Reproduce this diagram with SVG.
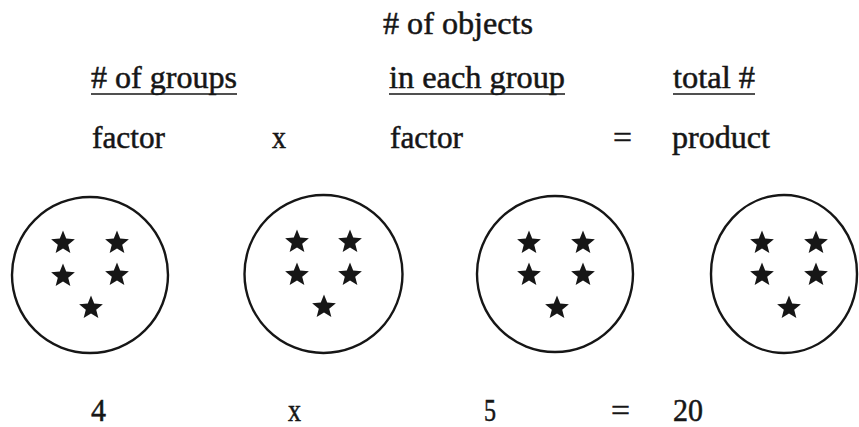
<svg xmlns="http://www.w3.org/2000/svg" xmlns:xlink="http://www.w3.org/1999/xlink" width="859" height="427" viewBox="0 0 859 427">
<style>
  text { font-family: "Liberation Serif", "Times New Roman", serif; font-size: 31px; fill: #161616; stroke: #161616; stroke-width: 0.5; }
  .ul { stroke: #161616; stroke-width: 1.6; }
  .grp { fill: none; stroke: #161616; stroke-width: 2.4; }
  .star { fill: #161616; }
</style>
<defs>
  <path id="star" d="M0,-12.5 L3.2,-4.4 L11.89,-3.86 L5.2,1.7 L7.35,10.11 L0,5.5 L-7.35,10.11 L-5.2,1.7 L-11.89,-3.86 L-3.2,-4.4 Z"/>
</defs>
<rect width="859" height="427" fill="#ffffff"/>
<g id="headings">
  <text x="383" y="34" textLength="150" lengthAdjust="spacingAndGlyphs"># of objects</text>
  <text x="91" y="88" textLength="146" lengthAdjust="spacingAndGlyphs"># of groups</text>
  <line class="ul" x1="91" y1="94" x2="237" y2="94"/>
  <text x="389" y="88" textLength="176" lengthAdjust="spacingAndGlyphs">in each group</text>
  <line class="ul" x1="389" y1="94" x2="565" y2="94"/>
  <text x="673" y="88" textLength="82" lengthAdjust="spacingAndGlyphs">total #</text>
  <line class="ul" x1="673" y1="94" x2="755" y2="94"/>
</g>
<g id="equation-words">
  <text x="92" y="148" textLength="73" lengthAdjust="spacingAndGlyphs">factor</text>
  <text x="272" y="148" textLength="14" lengthAdjust="spacingAndGlyphs">x</text>
  <text x="390" y="148" textLength="73" lengthAdjust="spacingAndGlyphs">factor</text>
  <text x="613" y="148" textLength="19" lengthAdjust="spacingAndGlyphs">=</text>
  <text x="672" y="148" textLength="98" lengthAdjust="spacingAndGlyphs">product</text>
</g>
<g id="group1">
  <circle class="grp" cx="90" cy="275" r="78"/>
  <use class="star" xlink:href="#star" x="63" y="243"/>
  <use class="star" xlink:href="#star" x="117" y="243"/>
  <use class="star" xlink:href="#star" x="63" y="276"/>
  <use class="star" xlink:href="#star" x="117" y="275"/>
  <use class="star" xlink:href="#star" x="91" y="308"/>
</g>
<g id="group2">
  <circle class="grp" cx="323.5" cy="274" r="79"/>
  <use class="star" xlink:href="#star" x="297" y="242"/>
  <use class="star" xlink:href="#star" x="350" y="242"/>
  <use class="star" xlink:href="#star" x="297" y="275"/>
  <use class="star" xlink:href="#star" x="350" y="275"/>
  <use class="star" xlink:href="#star" x="324" y="307"/>
</g>
<g id="group3">
  <circle class="grp" cx="555" cy="274" r="78"/>
  <use class="star" xlink:href="#star" x="529" y="243"/>
  <use class="star" xlink:href="#star" x="583" y="243"/>
  <use class="star" xlink:href="#star" x="529" y="275"/>
  <use class="star" xlink:href="#star" x="583" y="275"/>
  <use class="star" xlink:href="#star" x="557" y="308"/>
</g>
<g id="group4">
  <ellipse class="grp" cx="784" cy="274" rx="73" ry="79"/>
  <use class="star" xlink:href="#star" x="762" y="243"/>
  <use class="star" xlink:href="#star" x="816" y="243"/>
  <use class="star" xlink:href="#star" x="762" y="275"/>
  <use class="star" xlink:href="#star" x="816" y="275"/>
  <use class="star" xlink:href="#star" x="789" y="308"/>
</g>
<g id="equation-numbers">
  <text x="91" y="421" textLength="15" lengthAdjust="spacingAndGlyphs">4</text>
  <text x="288" y="421" textLength="13" lengthAdjust="spacingAndGlyphs">x</text>
  <text x="484" y="421" textLength="12" lengthAdjust="spacingAndGlyphs">5</text>
  <text x="611" y="421" textLength="19" lengthAdjust="spacingAndGlyphs">=</text>
  <text x="673" y="421" textLength="30" lengthAdjust="spacingAndGlyphs">20</text>
</g>
<g id="connectors"></g>
</svg>
